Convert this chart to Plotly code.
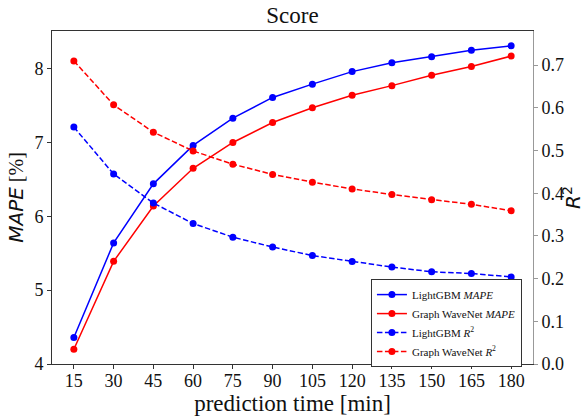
import plotly.graph_objects as go

minutes = [15, 30, 45, 60, 75, 90, 105, 120, 135, 150, 165, 180]
lgbm_mape = [4.36, 5.64, 6.44, 6.96, 7.33, 7.61, 7.79, 7.96, 8.08, 8.16, 8.25, 8.31]
gwn_mape = [4.20, 5.39, 6.14, 6.65, 7.00, 7.27, 7.47, 7.64, 7.77, 7.91, 8.03, 8.17]
lgbm_r2 = [0.555, 0.445, 0.377, 0.329, 0.297, 0.274, 0.254, 0.240, 0.227, 0.216, 0.212, 0.204]
gwn_r2 = [0.710, 0.607, 0.543, 0.499, 0.468, 0.444, 0.426, 0.410, 0.397, 0.385, 0.374, 0.359]
mape_ticks = [4, 5, 6, 7, 8]
r2_ticks = [0.0, 0.1, 0.2, 0.3, 0.4, 0.5, 0.6, 0.7]

SERIF = "Liberation Serif"
SANS = "DejaVu Sans"
BLUE = "#0000ff"
RED = "#ff0000"

fig = go.Figure()
fig.add_trace(go.Scatter(x=minutes, y=lgbm_mape, mode="lines+markers",
                         name="LightGBM <i>MAPE</i>",
                         line=dict(color=BLUE, width=1.5), marker=dict(size=7, color=BLUE)))
fig.add_trace(go.Scatter(x=minutes, y=gwn_mape, mode="lines+markers",
                         name="Graph WaveNet <i>MAPE</i>",
                         line=dict(color=RED, width=1.5), marker=dict(size=7, color=RED)))
fig.add_trace(go.Scatter(x=minutes, y=lgbm_r2, mode="lines+markers", yaxis="y2",
                         name="LightGBM <i>R</i><sup>2</sup>",
                         line=dict(color=BLUE, width=1.5, dash="5.5px,2.5px"), marker=dict(size=7, color=BLUE)))
fig.add_trace(go.Scatter(x=minutes, y=gwn_r2, mode="lines+markers", yaxis="y2",
                         name="Graph WaveNet <i>R</i><sup>2</sup>",
                         line=dict(color=RED, width=1.5, dash="5.5px,2.5px"), marker=dict(size=7, color=RED)))

fig.update_layout(
    template="none",
    width=585, height=416,
    margin=dict(l=52, r=52, t=31, b=52),
    paper_bgcolor="white", plot_bgcolor="white",
    font=dict(family=SERIF, size=18, color="#111"),
    title=dict(text="Score", x=0.5, xanchor="center", xref="paper",
               y=1 - 15 / 416, yref="container", yanchor="middle",
               font=dict(family=SERIF, size=23, color="#111")),
    xaxis=dict(range=[6.75, 188.25], tickvals=minutes, ticktext=[str(m) for m in minutes],
               showgrid=False, zeroline=False, showline=True, linecolor="#333", linewidth=1,
               mirror=True, ticks="outside", ticklen=4, tickcolor="#333",
               ticklabelstandoff=-4,
               tickfont=dict(family=SERIF, size=18, color="#111"),
               title=dict(text="prediction time [min]", standoff=0,
                          font=dict(family=SERIF, size=23, color="#111"))),
    yaxis=dict(range=[4, 8.51], tickvals=mape_ticks, ticktext=[str(t) for t in mape_ticks],
               showgrid=False, zeroline=False, showline=True, linecolor="#333", linewidth=1,
               ticks="outside", ticklen=4, tickcolor="#333",
               tickfont=dict(family=SERIF, size=18, color="#111"),
               title=dict(text="<span style='font-family:DejaVu Sans'><i>MAPE</i></span> [%]", standoff=5,
                          font=dict(family=SERIF, size=20, color="#111"))),
    yaxis2=dict(range=[0, 0.78], overlaying="y", side="right",
                tickvals=r2_ticks, ticktext=[f"{t:.1f}" for t in r2_ticks],
                showgrid=False, zeroline=False, showline=True, linecolor="#999", linewidth=1,
                ticks="outside", ticklen=4, tickcolor="#999",
                tickfont=dict(family=SERIF, size=18, color="#111"),
                title=dict(text="<i>R</i><sup>2</sup>", standoff=2,
                           font=dict(family=SANS, size=20, color="#111"))),
    legend=dict(x=0.977, y=0.255, xanchor="right", yanchor="top",
                bgcolor="white", bordercolor="#333", borderwidth=1,
                font=dict(family=SERIF, size=11, color="#111"),
                tracegroupgap=0, itemwidth=30),
    showlegend=True,
)

fig.write_html("out.html")
